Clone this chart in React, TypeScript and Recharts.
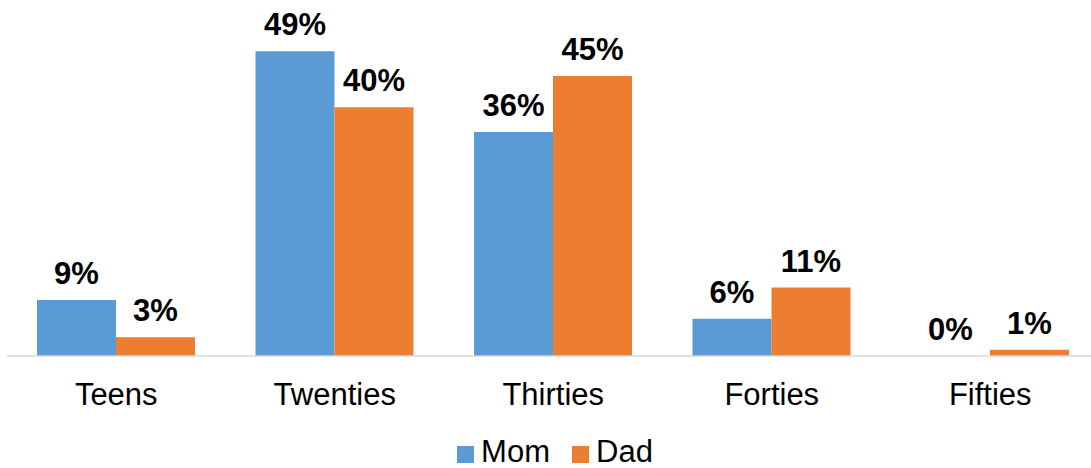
import React from 'react';
import { BarChart, Bar, XAxis, YAxis, Legend, LabelList } from 'recharts';

const categories = ['Teens', 'Twenties', 'Thirties', 'Forties', 'Fifties'];
const momValues = [9, 49, 36, 6, 0];
const dadValues = [3, 40, 45, 11, 1];

const data = categories.map((c, i) => ({ name: c, Mom: momValues[i], Dad: dadValues[i] }));

const MOM = '#5B9BD5';
const DAD = '#ED7D31';
const FONT = '"Liberation Sans", Arial, sans-serif';

const LegendContent = () => (
  <div style={{ display: 'flex', justifyContent: 'center', alignItems: 'center', fontFamily: FONT, fontSize: 31, color: '#000', height: 30 }}>
    {[
      { label: 'Mom', color: MOM },
      { label: 'Dad', color: DAD },
    ].map((it, i) => (
      <div key={it.label} style={{ display: 'flex', alignItems: 'center', marginLeft: i === 0 ? 0 : 22, height: 30 }}>
        <span style={{ display: 'inline-block', width: 17, height: 17, background: it.color, marginRight: 7, marginTop: 4 }} />
        <span style={{ lineHeight: '30px' }}>{it.label}</span>
      </div>
    ))}
  </div>
);

const labelStyle = { fill: '#000', fontSize: 31, fontWeight: 'bold', fontFamily: FONT };

export default function App() {
  return (
    <div style={{ position: 'absolute', left: 0, top: 0, width: 1091, height: 468, overflow: 'hidden', background: '#fff' }}>
      <BarChart
        width={1110}
        height={468}
        data={data}
        margin={{ top: 45, right: 10.5, left: 7, bottom: 52 }}
        barGap={0}
        barSize={79}
      >
        <XAxis
          dataKey="name"
          height={60}
          tickLine={false}
          tickSize={0}
          tickMargin={27}
          axisLine={{ stroke: '#D9D9D9', strokeWidth: 1.5 }}
          tick={{ fill: '#000', fontSize: 31, fontFamily: FONT }}
          interval={0}
        />
        <YAxis hide domain={[0, 50]} />
        <Legend
          verticalAlign="middle"
          content={<LegendContent />}
          wrapperStyle={{ top: 437, left: 0, width: 1110, height: 30 }}
        />
        <Bar dataKey="Mom" fill={MOM} isAnimationActive={false} minPointSize={0.01}>
          <LabelList dataKey="Mom" position="top" offset={16} formatter={(v: number) => `${v}%`} style={labelStyle} />
        </Bar>
        <Bar dataKey="Dad" fill={DAD} isAnimationActive={false} minPointSize={0.01}>
          <LabelList dataKey="Dad" position="top" offset={16} formatter={(v: number) => `${v}%`} style={labelStyle} />
        </Bar>
      </BarChart>
    </div>
  );
}
